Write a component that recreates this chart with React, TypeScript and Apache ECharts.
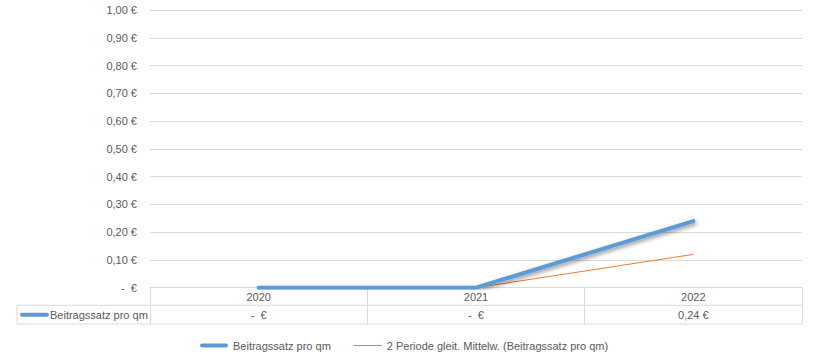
import React, { useEffect, useRef } from "react";
import * as echarts from "echarts";

const categories = ["2020", "2021", "2022"];
const beitragssatz = [0, 0, 0.24];
const gleitMittel: (number | string)[] = ["-", 0, 0.12];
const yTicks = [0, 0.1, 0.2, 0.3, 0.4, 0.5, 0.6, 0.7, 0.8, 0.9, 1.0];
const seriesNames = ["Beitragssatz pro qm", "2 Periode gleit. Mittelw. (Beitragssatz pro qm)"];

const FONT = "Liberation Sans";
const TXT = "#595959";
const GRID = "#d9d9d9";
const BLUE = "#5b9bd5";
const ORANGE = "#ed7d31";

const fmtEuro = (v: number) =>
  v === 0 ? "-\u00a0\u00a0€" : v.toFixed(2).replace(".", ",") + " €";

export default function App() {
  const ref = useRef<HTMLDivElement>(null);
  useEffect(() => {
    if (!ref.current) return;
    const chart = echarts.init(ref.current, undefined, { renderer: "svg" });
    const gl = 150, gr = 14, gt = 10, gb = 70.3;
    const W = 816, H = 358;
    const axisY = H - gb; // 287.7
    const rowH = 17.6;
    const row1 = axisY + rowH; // header row bottom
    const row2 = row1 + 18.7; // value row bottom
    const rightX = W - gr;
    const tableLeft = 17;
    chart.setOption({
      animation: false,
      grid: { left: gl, right: gr, top: gt, bottom: gb, containLabel: false },
      textStyle: { fontFamily: FONT },
      xAxis: [
        {
          type: "category",
          data: categories,
          boundaryGap: true,
          axisLine: { show: true, lineStyle: { color: GRID, width: 1 } },
          axisTick: { show: true, length: row2 - axisY, lineStyle: { color: GRID } },
          axisLabel: { color: TXT, fontSize: 11, fontFamily: FONT, margin: 4 },
        },
        {
          type: "category",
          data: categories,
          position: "bottom",
          offset: rowH,
          boundaryGap: true,
          axisLine: { show: false },
          axisTick: { show: false },
          axisLabel: {
            color: TXT,
            fontSize: 11,
            fontFamily: FONT,
            margin: 4,
            formatter: (_v: string, i: number) => fmtEuro(beitragssatz[i]),
          },
        },
      ],
      yAxis: {
        type: "value",
        min: yTicks[0],
        max: yTicks[yTicks.length - 1],
        interval: 0.1,
        axisLine: { show: false },
        axisTick: { show: false },
        splitLine: { lineStyle: { color: GRID, width: 1 } },
        axisLabel: {
          color: TXT,
          fontSize: 11,
          fontFamily: FONT,
          margin: 13,
          formatter: (v: number) => fmtEuro(Math.round(v * 100) / 100),
        },
      },
      legend: {
        left: 195,
        top: 335,
        itemWidth: 28,
        itemHeight: 4,
        itemGap: 23,
        textStyle: { color: TXT, fontSize: 11, fontFamily: FONT },
        itemStyle: { borderWidth: 0 },
        data: [
          {
            name: seriesNames[0],
            icon: "path://M2,0H26A2,2 0 0 1 26,4H2A2,2 0 0 1 2,0Z",
            itemStyle: { color: BLUE, borderWidth: 0 },
          },
          {
            name: seriesNames[1],
            icon: "path://M0,0H28V1H0Z",
            itemStyle: { color: ORANGE, borderWidth: 0 },
          },
        ],
      },
      series: [
        {
          name: seriesNames[0],
          type: "line",
          data: beitragssatz,
          symbol: "none",
          z: 5,
          lineStyle: {
            color: BLUE,
            width: 4,
            cap: "round",
            join: "round",
            shadowColor: "rgba(0,0,0,0.45)",
            shadowBlur: 4,
            shadowOffsetX: 1,
            shadowOffsetY: 2,
          },
          itemStyle: { color: BLUE },
        },
        {
          name: seriesNames[1],
          type: "line",
          data: gleitMittel,
          symbol: "none",
          z: 3,
          lineStyle: { color: ORANGE, width: 1 },
          itemStyle: { color: ORANGE },
        },
      ],
      graphic: [
        {
          type: "line",
          shape: { x1: tableLeft, y1: row1, x2: rightX, y2: row1 },
          style: { stroke: GRID, lineWidth: 1 },
          silent: true,
        },
        {
          type: "line",
          shape: { x1: tableLeft, y1: row2, x2: rightX, y2: row2 },
          style: { stroke: GRID, lineWidth: 1 },
          silent: true,
        },
        {
          type: "line",
          shape: { x1: tableLeft, y1: row1, x2: tableLeft, y2: row2 },
          style: { stroke: GRID, lineWidth: 1 },
          silent: true,
        },
        {
          type: "line",
          shape: { x1: 22, y1: (row1 + row2) / 2, x2: 47, y2: (row1 + row2) / 2 },
          style: { stroke: BLUE, lineWidth: 4, lineCap: "round" },
          silent: true,
        },
        {
          type: "text",
          x: 50,
          y: (row1 + row2) / 2,
          style: {
            text: seriesNames[0],
            fill: TXT,
            fontSize: 11,
            fontFamily: FONT,
            verticalAlign: "middle",
          },
          silent: true,
        },
      ],
    });
    return () => chart.dispose();
  }, []);
  return (
    <div
      ref={ref}
      style={{ position: "fixed", left: 0, top: 0, width: 816, height: 358, background: "#fff" }}
    />
  );
}
